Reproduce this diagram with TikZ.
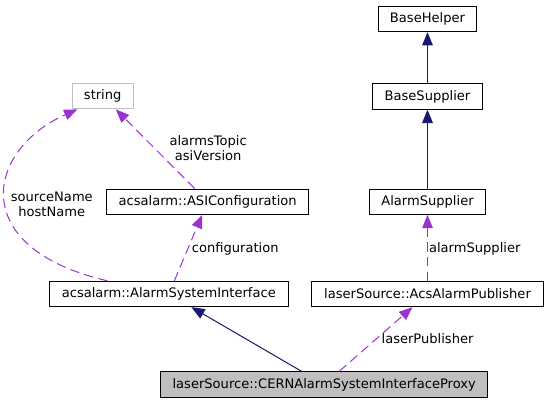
\documentclass[tikz,border=0pt]{standalone}
\usepackage{fontspec}
\setmainfont{DejaVu Sans}
\usepackage{xcolor}
\usepackage{tikz}
\usetikzlibrary{arrows.meta}
\definecolor{inhblue}{HTML}{191970}
\definecolor{usepurple}{HTML}{9A32CD}
\definecolor{boxgray}{HTML}{BFBFBF}

\begin{document}
\begin{tikzpicture}[x=0.75pt,y=-0.75pt,
    dia/.style={font=\fontsize{9.8}{11.2}\selectfont},
    cls/.style={dia,draw=black,line width=0.75pt,inner sep=0pt,minimum height=19pt},
    inh/.style={color=inhblue,line width=0.75pt,-{Triangle[length=10pt,width=8pt]}},
    usg/.style={color=usepurple,line width=0.75pt,dash pattern=on 7pt off 4pt,-{Triangle[length=10pt,width=8pt]}},
    lbl/.style={dia,text=black,inner sep=0pt,align=center}]
  \useasboundingbox (0,0) rectangle (545,403);
  % classes
  \node[cls,minimum width=73.9pt] (basehelp) at (427.5,19) {BaseHelper};
  \node[cls,minimum width=81.8pt] (basesup) at (427.5,96.5) {BaseSupplier};
  \node[cls,minimum width=87.4pt] (alsup) at (427.5,201.7) {AlarmSupplier};
  \node[cls,draw=boxgray,minimum width=45.6pt] (str) at (102.7,96.2) {string};
  \node[cls,minimum width=151.5pt] (asicfg) at (207.7,201.7) {acsalarm::ASIConfiguration};
  \node[cls,minimum width=178.8pt] (asi) at (168.8,294) {acsalarm::AlarmSystemInterface};
  \node[cls,minimum width=173.7pt] (acspub) at (427.5,294) {laserSource::AcsAlarmPublisher};
  \node[cls,fill=boxgray,minimum width=245.3pt] (proxy) at (324.2,384.5) {laserSource::CERNAlarmSystemInterfaceProxy};
  % inheritance
  \path[inh] (basesup) edge (basehelp);
  \path[inh] (alsup) edge (basesup);
  \path[inh] (proxy) edge (asi);
  % usage
  \path[usg] (acspub) edge node[lbl,pos=0.48,right=0.8pt] {alarmSupplier} (alsup);
  \path[usg] (proxy) edge node[lbl,pos=0.51,right=3.4pt] {laserPublisher} (acspub);
  \path[usg] (asi) edge node[lbl,pos=0.48,right=2.8pt] {configuration} (asicfg);
  \path[usg] (asicfg) edge node[lbl,pos=0.51,right=11pt] {alarmsTopic\\asiVersion} (str);
  \draw[usg] ([xshift=-46pt]asi.north) .. controls (-34,248) and (-14,150) .. ([xshift=-19pt]str.south)
    node[lbl,pos=0.47,right=3.5pt] {sourceName\\hostName};
\end{tikzpicture}
\end{document}
